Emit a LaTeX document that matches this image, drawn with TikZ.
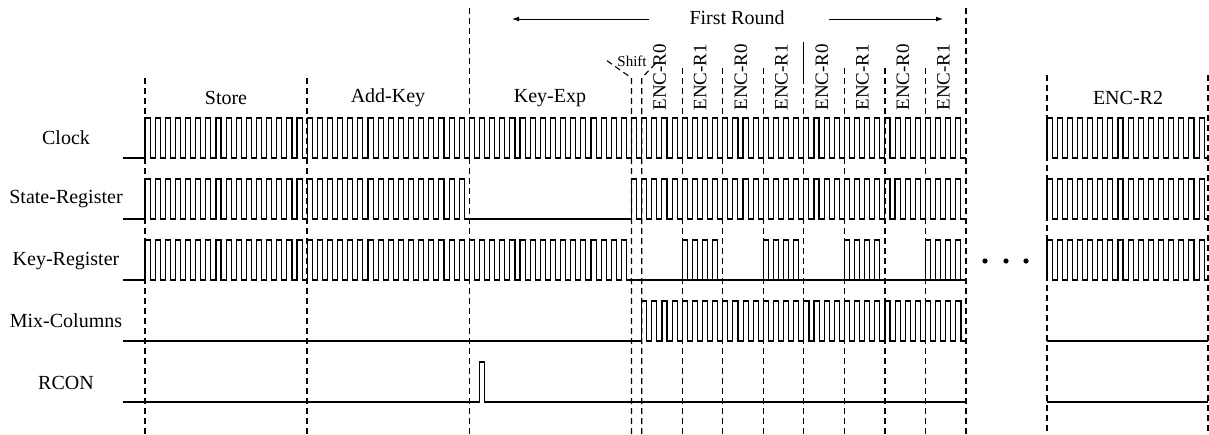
\documentclass[tikz,border=0pt]{standalone}
\usepackage{fontspec}
\setmainfont{Liberation Serif}
\usetikzlibrary{arrows.meta, positioning}

% one clock period and half of it, in pixel units
\def\per{10.1358}
\def\hp{5.0679}
% square wave: start x, number of periods, low level y
\newcommand{\sqw}[3]{%
  \draw[sig] (#1,#3) \foreach \k in {1,...,#2}{ -- ++(0,-40) -- ++(\hp,0) -- ++(0,40) -- ++(\hp,0)};}

\begin{document}
\begin{tikzpicture}[x=0.5pt, y=-0.5pt, >={Latex[length=3.5pt, width=2.4pt]},
  font=\fontsize{10}{12}\selectfont,
  sig/.style={line width=0.55pt},
  sep/.style={line width=0.55pt, dash pattern=on 3pt off 2pt},
  lbl/.style={inner sep=0pt},
  enc/.style={rotate=90, anchor=west, inner sep=0pt, font=\fontsize{9.5}{11}\selectfont},
  dot/.style={circle, fill, inner sep=0pt, minimum size=2.6pt}]
\useasboundingbox (0,0) rectangle (1209,434);

% signal names
\node[lbl] (clk) at (66,138) {Clock};
\node[lbl] (state) at (66,199) {State-Register};
\node[lbl] (key) at (66,261) {Key-Register};
\node[lbl] (mix) at (66,321) {Mix-Columns};
\node[lbl] (rcon) at (66,383) {RCON};

% phase names
\node[lbl] (store) at (226,98) {Store};
\node[lbl] (addkey) at (388,98) {Add-Key};
\node[lbl] (keyexp) at (550,98) {Key-Exp};
\node[lbl] (enctwo) at (1128,98) {ENC-R2};
\node[lbl] (first) at (737,18) {First Round};
\coordinate (la) at (512,19);
\coordinate (ra) at (943,19);
\draw[->] (first.west) ++(-40,1) -- (la);
\draw[->] (first.east) ++(44,1) -- (ra);
\node[lbl, font=\fontsize{7.5}{8}\selectfont] (shift) at (632,61) {Shift};
\foreach \i/\t in {0/R0,1/R1,2/R0,3/R1,4/R0,5/R1,6/R0,7/R1}
  \node[enc] (enc\i) at ({641.7+\i*40.543+18},111) {ENC-\t};

% phase borders
\foreach \x in {145,307} \draw[sep] (\x,78) -- (\x,434);
\foreach \x in {469.4,966} \draw[sep] (\x,8) -- (\x,434);
\foreach \x in {1047,1208} \draw[sep] (\x,75) -- (\x,434);
\draw[sep] (631.5,434) -- (631.5,78) -- (606,60);
\draw[sep] (641.7,434) -- (641.7,78) -- (657,62);
\foreach \i in {1,2,3,5,6,7} \draw[sep] ({641.7+\i*40.543},68) -- ({641.7+\i*40.543},434);
\draw[sep] (803.8,78) -- (803.8,434);
\draw[sig] (803.8,42) -- (803.8,78);

% Clock
\draw[sig] (123,158) -- (145,158);
\sqw{145}{81}{158}
\sqw{1047}{16}{158}
% State-Register
\draw[sig] (123,219) -- (145,219);
\sqw{145}{32}{219}
\draw[sig] (469.4,219) -- (631.5,219);
\sqw{631.5}{33}{219}
\sqw{1047}{16}{219}
% Key-Register
\draw[sig] (123,280) -- (145,280);
\sqw{145}{48}{280}
\draw[sig] (631.5,280) -- (966,280);
\foreach \s in {682.2,763.3,844.3,925.4} {\sqw{\s}{4}{280}}
\sqw{1047}{16}{280}
% Mix-Columns
\draw[sig] (123,341) -- (641.7,341);
\sqw{641.7}{32}{341}
\draw[sig] (1047,341) -- (1208,341);
% RCON
\draw[sig] (123,402) -- (479.5,402) -- (479.5,362) -- (484.6,362) -- (484.6,402) -- (966,402);
\draw[sig] (1047,402) -- (1208,402);

% dots between the rounds
\node[dot] (d1) at (985,261) {};
\node[dot] (d2) at (1006,261) {};
\node[dot] (d3) at (1026,261) {};
\end{tikzpicture}
\end{document}
